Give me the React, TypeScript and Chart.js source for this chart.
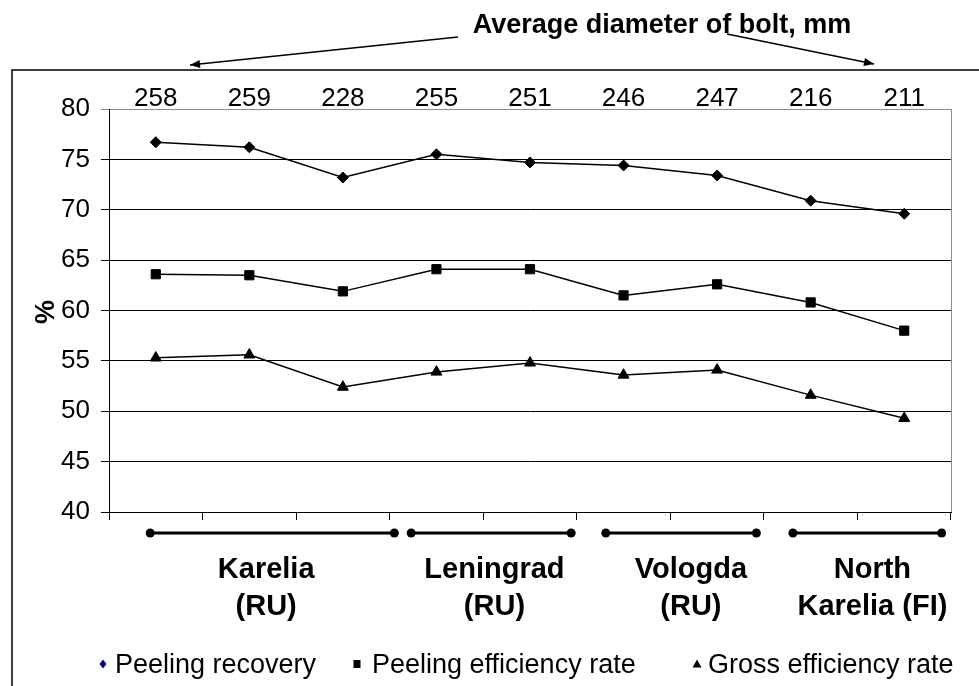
import React, { useEffect, useRef } from "react";
import { Chart, registerables } from "chart.js";

Chart.register(...registerables);

// ---- data ----
const bolts = ["258", "259", "228", "255", "251", "246", "247", "216", "211"];
const peelingRecovery = [76.7, 76.2, 73.2, 75.5, 74.7, 74.4, 73.4, 70.9, 69.6];
const peelingEfficiency = [63.6, 63.5, 61.9, 64.1, 64.1, 61.5, 62.6, 60.8, 58.0];
const grossEfficiency = [55.3, 55.6, 52.4, 53.9, 54.8, 53.6, 54.1, 51.6, 49.3];
const seriesNames = ["Peeling recovery", "Peeling efficiency rate", "Gross efficiency rate"];
const regionLine1 = ["Karelia", "Leningrad", "Vologda", "North"];
const regionLine2 = ["(RU)", "(RU)", "(RU)", "Karelia (FI)"];
const regionFrom = [-0.06, 2.73, 4.81, 6.81];
const regionTo = [2.55, 4.44, 6.42, 8.4];
const regionCenter = [1.18, 3.62, 5.72, 7.66];
const yMin = 40;
const yMax = 80;
const yStep = 5;
const titleText = "Average diameter of bolt, mm";
const yTitle = "%";

const FONT = "'Liberation Sans', Arial, Helvetica, sans-serif";

function arrow(ctx: CanvasRenderingContext2D, x1: number, y1: number, x2: number, y2: number) {
  ctx.beginPath();
  ctx.moveTo(x1, y1);
  ctx.lineTo(x2, y2);
  ctx.stroke();
  const a = Math.atan2(y2 - y1, x2 - x1);
  const L = 10, W = 4;
  ctx.beginPath();
  ctx.moveTo(x2, y2);
  ctx.lineTo(x2 - L * Math.cos(a) + W * Math.sin(a), y2 - L * Math.sin(a) - W * Math.cos(a));
  ctx.lineTo(x2 - L * Math.cos(a) - W * Math.sin(a), y2 - L * Math.sin(a) + W * Math.cos(a));
  ctx.closePath();
  ctx.fill();
}

const annotPlugin = {
  id: "annot",
  beforeDraw(chart: any) {
    const { ctx } = chart;
    ctx.save();
    ctx.fillStyle = "#fff";
    ctx.fillRect(0, 0, chart.width, chart.height);
    ctx.restore();
  },
  afterDraw(chart: any) {
    const { ctx, chartArea } = chart;
    const x = chart.scales.x;
    ctx.save();
    ctx.fillStyle = "#000";
    ctx.strokeStyle = "#000";

    // outer frame
    ctx.lineWidth = 1.5;
    ctx.beginPath();
    ctx.moveTo(12, chart.height + 2);
    ctx.lineTo(12, 70);
    ctx.lineTo(chart.width + 2, 70);
    ctx.stroke();

    // right border of plot area (gray)
    ctx.lineWidth = 1;
    ctx.strokeStyle = "#8c8c8c";
    ctx.beginPath();
    ctx.moveTo(Math.round(chartArea.right) + 0.5, chartArea.top);
    ctx.lineTo(Math.round(chartArea.right) + 0.5, chartArea.bottom);
    ctx.stroke();
    ctx.strokeStyle = "#000";

    // top diameter labels
    ctx.font = `26px ${FONT}`;
    ctx.textAlign = "center";
    ctx.textBaseline = "alphabetic";
    bolts.forEach((b, i) => {
      ctx.fillText(b, x.getPixelForValue(i), 106);
    });

    // title
    ctx.font = `bold 27px ${FONT}`;
    ctx.fillText(titleText, 662, 33);

    // arrows
    ctx.lineWidth = 1.5;
    arrow(ctx, 458, 37, 190, 65);
    arrow(ctx, 727, 34, 874, 64);

    // y title
    ctx.save();
    ctx.translate(47, 312);
    ctx.rotate(-Math.PI / 2);
    ctx.font = `bold 27px ${FONT}`;
    ctx.textBaseline = "middle";
    ctx.fillText(yTitle, 0, 0);
    ctx.restore();

    // region brackets
    const by = 533;
    ctx.lineWidth = 3;
    regionFrom.forEach((f, i) => {
      const x1 = x.getPixelForValue(f);
      const x2 = x.getPixelForValue(regionTo[i]);
      ctx.beginPath();
      ctx.moveTo(x1, by);
      ctx.lineTo(x2, by);
      ctx.stroke();
      [x1, x2].forEach((px) => {
        ctx.beginPath();
        ctx.arc(px, by, 4.5, 0, Math.PI * 2);
        ctx.fill();
      });
    });

    // region labels
    ctx.font = `bold 29px ${FONT}`;
    regionCenter.forEach((c, i) => {
      const px = x.getPixelForValue(c);
      ctx.fillText(regionLine1[i], px, 578);
      ctx.fillText(regionLine2[i], px, 615);
    });

    // legend
    ctx.font = `27px ${FONT}`;
    ctx.textAlign = "left";
    const ly = 673;
    const my = 664;
    const textX = [115, 372, 708];
    const markX = [103, 357, 697];
    // diamond (navy)
    ctx.fillStyle = "#000080";
    ctx.beginPath();
    ctx.moveTo(markX[0], my - 4.5);
    ctx.lineTo(markX[0] + 3.5, my);
    ctx.lineTo(markX[0], my + 4.5);
    ctx.lineTo(markX[0] - 3.5, my);
    ctx.closePath();
    ctx.fill();
    ctx.fillStyle = "#000";
    ctx.fillRect(markX[1] - 3.5, my - 4, 7, 8);
    ctx.beginPath();
    ctx.moveTo(markX[2], my - 4.5);
    ctx.lineTo(markX[2] + 4.5, my + 3.5);
    ctx.lineTo(markX[2] - 4.5, my + 3.5);
    ctx.closePath();
    ctx.fill();
    seriesNames.forEach((n, i) => ctx.fillText(n, textX[i], ly));

    ctx.restore();
  },
};

export default function App() {
  const ref = useRef<HTMLCanvasElement | null>(null);
  useEffect(() => {
    if (!ref.current) return;
    const common = {
      borderColor: "#000",
      borderWidth: 1.5,
      pointBackgroundColor: "#000",
      pointBorderColor: "#000",
      pointBorderWidth: 1,
      fill: false,
      tension: 0,
    };
    const chart = new Chart(ref.current, {
      type: "line",
      data: {
        labels: bolts,
        datasets: [
          { ...common, label: seriesNames[0], data: peelingRecovery, pointStyle: "rectRot", pointRadius: 5.5 },
          { ...common, label: seriesNames[1], data: peelingEfficiency, pointStyle: "rect", pointRadius: 6.5 },
          { ...common, label: seriesNames[2], data: grossEfficiency, pointStyle: "triangle", pointRadius: 6.3 },
        ],
      },
      options: {
        responsive: false,
        animation: false,
        devicePixelRatio: 1,
        layout: { padding: { left: 0, top: 109, right: 28, bottom: 164 } },
        plugins: { legend: { display: false }, tooltip: { enabled: false }, title: { display: false } },
        scales: {
          x: {
            type: "category",
            offset: true,
            ticks: { display: false },
            grid: {
              offset: true,
              drawOnChartArea: false,
              drawTicks: true,
              tickLength: 8,
              color: "#000",
            },
            border: { color: "#000", width: 1 },
            afterFit: (s: any) => {
              s.height = 10;
            },
          },
          y: {
            min: yMin,
            max: yMax,
            ticks: {
              stepSize: yStep,
              color: "#000",
              padding: 11,
              font: { family: FONT, size: 26 },
            },
            grid: {
              color: (c: any) => (c.tick && c.tick.value === yMax ? "#8c8c8c" : "#000"),
              tickLength: 8,
              lineWidth: 1,
            },
            border: { color: "#000", width: 1 },
            afterFit: (s: any) => {
              s.width = 109;
            },
          },
        },
      },
      plugins: [annotPlugin],
    });
    return () => chart.destroy();
  }, []);
  return (
    <div style={{ position: "absolute", left: 0, top: 0, width: 979, height: 686 }}>
      <canvas ref={ref} width={979} height={686} style={{ display: "block" }} />
    </div>
  );
}
